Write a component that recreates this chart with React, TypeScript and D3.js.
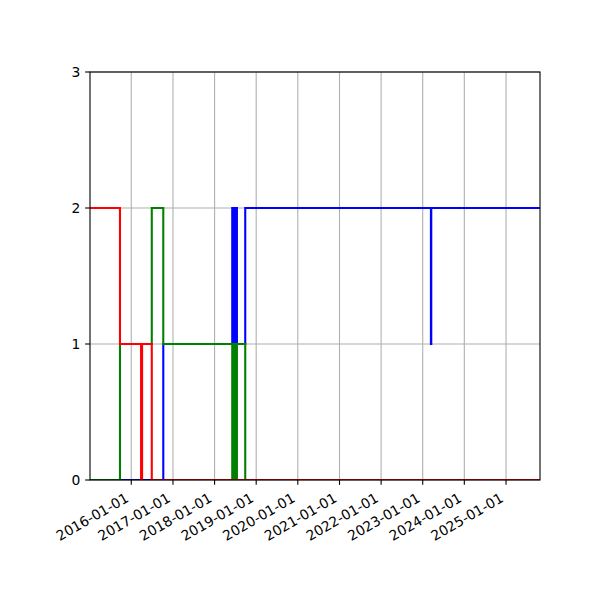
import React from "react";
import * as d3 from "d3";

// Step-change data: each series value holds from its date until the next date
const redDates = ["2015-01-04", "2015-09-24", "2016-03-27", "2016-04-05", "2016-06-29", "2025-10-26"];
const redValues = [2, 1, 0, 1, 0, 0];

const greenDates = [
  "2015-01-04", "2015-09-24", "2016-06-29", "2016-10-08",
  "2018-06-05", "2018-06-10", "2018-06-15", "2018-06-20", "2018-06-25",
  "2018-06-30", "2018-07-05", "2018-07-10", "2018-07-13", "2018-07-16",
  "2018-09-27", "2025-10-26",
];
const greenValues = [0, 1, 2, 1, 0, 1, 0, 1, 0, 1, 0, 1, 0, 1, 0, 0];

const blueDates = [
  "2015-01-04", "2016-10-08",
  "2018-06-05", "2018-06-10", "2018-06-15", "2018-06-20", "2018-06-25",
  "2018-06-30", "2018-07-05", "2018-07-10", "2018-07-13", "2018-07-16",
  "2018-09-27", "2023-03-14", "2023-03-17", "2025-10-26",
];
const blueValues = [0, 1, 2, 1, 2, 1, 2, 1, 2, 1, 2, 1, 2, 1, 2, 2];

const xDomain = ["2015-01-04", "2025-10-26"];
const xTickLabels = [
  "2016-01-01", "2017-01-01", "2018-01-01", "2019-01-01", "2020-01-01",
  "2021-01-01", "2022-01-01", "2023-01-01", "2024-01-01", "2025-01-01",
];
const yTicks = [0, 1, 2, 3];

const parse = d3.utcParse("%Y-%m-%d");

const W = 600;
const H = 600;
const left = 90;
const right = 540;
const top = 72;
const bottom = 480;

const font = "'DejaVu Sans', sans-serif";
const fs = 13.89;

export default function App() {
  const x = d3
    .scaleUtc()
    .domain(xDomain.map((d) => parse(d) as Date))
    .range([left, right]);
  const y = d3.scaleLinear().domain([0, 3]).range([bottom, top]);

  const line = d3
    .line<[Date, number]>()
    .x((d) => x(d[0]))
    .y((d) => y(d[1]))
    .curve(d3.curveStepAfter);

  const mk = (dates: string[], vals: number[]) =>
    dates.map((d, i) => [parse(d) as Date, vals[i]] as [Date, number]);

  const series = [
    { color: "#0000ff", data: mk(blueDates, blueValues) },
    { color: "#008000", data: mk(greenDates, greenValues) },
    { color: "#ff0000", data: mk(redDates, redValues) },
  ];

  const tickLen = 4.86;
  const pad = 4.86;

  return (
    <svg
      width={W}
      height={H}
      style={{ position: "absolute", left: 0, top: 0, background: "#fff" }}
    >
      <defs>
        <clipPath id="plotclip">
          <rect x={left} y={top} width={right - left} height={bottom - top} />
        </clipPath>
      </defs>
      <rect x={0} y={0} width={W} height={H} fill="#fff" />
      {/* grid */}
      <g stroke="#b0b0b0" strokeWidth={1.1}>
        {xTickLabels.map((t) => {
          const xx = x(parse(t) as Date);
          return <line key={t} x1={xx} x2={xx} y1={top} y2={bottom} />;
        })}
        {yTicks.map((t) => (
          <line key={t} x1={left} x2={right} y1={y(t)} y2={y(t)} />
        ))}
      </g>
      {/* series */}
      <g clipPath="url(#plotclip)" fill="none" strokeWidth={2.08} strokeLinejoin="miter" strokeLinecap="butt">
        {series.map((s) => (
          <path key={s.color} d={line(s.data) || ""} stroke={s.color} />
        ))}
      </g>
      {/* spines */}
      <rect
        x={left}
        y={top}
        width={right - left}
        height={bottom - top}
        fill="none"
        stroke="#000"
        strokeWidth={1.1}
      />
      {/* y ticks */}
      {yTicks.map((t) => (
        <g key={t}>
          <line x1={left - tickLen} x2={left} y1={y(t)} y2={y(t)} stroke="#000" strokeWidth={1.1} />
          <text
            x={left - tickLen - pad}
            y={y(t) + 5}
            textAnchor="end"
            fontFamily={font}
            fontSize={fs}
            fill="#000"
          >
            {t}
          </text>
        </g>
      ))}
      {/* x ticks */}
      {xTickLabels.map((t) => {
        const xx = x(parse(t) as Date);
        return (
          <g key={t}>
            <line x1={xx} x2={xx} y1={bottom} y2={bottom + tickLen} stroke="#000" strokeWidth={1.1} />
            <text
              transform={`translate(${xx - 1.64},${500.9}) rotate(-30)`}
              textAnchor="end"
              fontFamily={font}
              fontSize={fs}
              fill="#000"
            >
              {t}
            </text>
          </g>
        );
      })}
    </svg>
  );
}
